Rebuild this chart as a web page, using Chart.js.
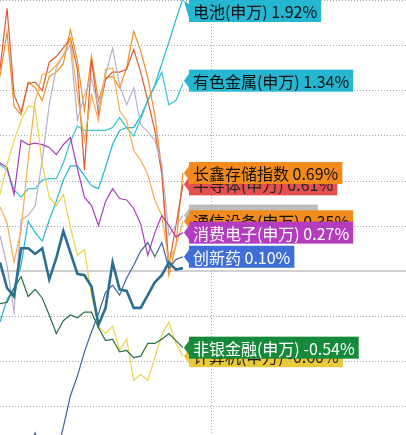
<!DOCTYPE html>
<html>
<head>
<meta charset="utf-8">
<script src="https://cdn.jsdelivr.net/npm/chart.js@4/dist/chart.umd.min.js"></script>
<style>
  html, body { margin: 0; padding: 0; background: #fff; }
  canvas { display: block; }
</style>
</head>
<body>
<canvas id="chart" width="406" height="435"></canvas>
<script>
// time steps (only the right-hand part of the session is in view)
const steps = [0,1,2,3,4,5,6,7,8,9,10,11,12,13,14,15,16,17,18,19,20,21,22,23,24,25,26]

// % change per series
const benchmark = [0.06,-0.12,-0.18,0.16,0.16,0.12,0.16,-0.06,0.09,0.28,0.13,-0.02,-0.03,-0.11,-0.38,-0.26,0.06,-0.13,-0.14,-0.26,-0.26,-0.17,-0.08,-0.03,0.06,0.01,0.02]
const battery = [-0.36,-0.20,-0.12,0.04,0.35,0.27,0.21,0.36,0.49,0.64,0.74,0.74,0.67,0.60,0.58,0.73,0.89,0.99,1.01,1.01,1.09,1.20,1.31,1.46,1.61,1.77,1.92]
const metals = [0.75,0.71,0.57,0.52,0.58,0.58,0.64,0.65,0.65,0.76,0.91,1.02,0.99,0.99,0.99,0.99,1.01,1.08,1.01,0.95,1.07,1.20,1.30,1.40,1.17,1.20,1.32]
const cxmt = [1.37,1.68,1.16,1.10,1.33,1.29,1.20,1.37,1.40,1.46,1.70,1.48,1.13,1.51,1.20,1.36,1.37,1.29,1.43,1.69,1.55,1.36,1.10,0.71,-0.03,0.18,0.69]
const semis = [1.42,1.85,1.24,1.12,1.32,1.33,1.27,1.47,1.51,1.57,1.64,1.42,0.71,1.49,1.10,1.35,1.40,1.40,1.42,1.56,1.40,1.20,0.99,0.68,0.04,0.32,0.61]
const greyIdx = [0.25,0.04,-0.29,0.36,0.39,0.46,0.78,1.17,1.43,1.52,1.59,1.06,1.24,1.35,1.15,1.38,1.57,1.31,1.17,1.29,1.03,0.98,0.92,0.75,0.25,0.32,0.39]
const telecom = [0.45,0.34,0.06,0.29,0.78,1.20,1.38,1.40,1.45,1.52,1.63,1.24,0.92,1.24,1.06,1.42,1.43,1.13,1.06,0.85,0.78,0.68,0.50,0.39,0.06,0.18,0.35]
const consumer = [0.76,0.73,0.54,0.92,0.89,0.90,0.89,0.87,0.82,0.89,0.94,0.72,0.52,0.46,0.32,0.49,0.58,0.51,0.50,0.44,0.33,0.11,0.27,0.39,0.32,0.24,0.27]
const drugs = [-1.40,-1.40,-1.40,-1.40,-1.25,-1.14,-1.30,-1.40,-1.30,-1.10,-0.88,-0.74,-0.57,-0.43,-0.30,-0.15,-0.10,-0.17,-0.05,0.04,0.14,0.20,0.10,0.20,0.02,0.08,0.10]
const nonBank = [-0.23,-0.22,-0.12,-0.04,-0.18,-0.13,-0.19,-0.31,-0.44,-0.35,-0.31,-0.33,-0.29,-0.29,-0.40,-0.49,-0.48,-0.57,-0.56,-0.61,-0.60,-0.51,-0.51,-0.48,-0.44,-0.49,-0.54]
const computer = [0.54,0.75,0.92,1.06,1.16,1.15,0.75,0.52,0.46,0.54,0.31,0.11,0.15,-0.17,-0.39,-0.44,-0.39,-0.56,-0.48,-0.77,-0.73,-0.77,-0.61,-0.45,-0.36,-0.51,-0.60]

// end-of-line tags
const tagNames = ["电池(申万)", "有色金属(申万)", "半导体(申万)", "长鑫存储指数", "", "通信设备(申万)", "消费电子(申万)", "创新药", "计算机(申万)", "非银金融(申万)"]
const tagValues = [1.92, 1.34, 0.61, 0.69, 0.39, 0.35, 0.27, 0.10, -0.60, -0.54]
const tagFill = ["#25b6d1", "#25b6d1", "#e4504e", "#f28a1c", "#bdbdbd", "#f28a1c", "#b43dbf", "#3f6fd6", "#e9c93a", "#17893a"]
const tagInk = ["#111", "#111", "#222", "#111", "#111", "#111", "#fff", "#fff", "#222", "#fff"]

const gridStep = 0.318
const vLine = 30

const line = (data, color, width) => ({
  data: data.map((v, i) => ({ x: steps[i], y: v })),
  borderColor: color,
  borderWidth: width || 1.2,
  pointRadius: 0,
  tension: 0,
  fill: false
})

const gridPlugin = {
  id: "grid",
  beforeDatasetsDraw(chart) {
    const { ctx, chartArea, scales: { x, y } } = chart
    ctx.save()
    ctx.lineWidth = 1
    ctx.strokeStyle = "#a6a6a6"
    ctx.setLineDash([1, 2])
    for (let k = -4; k <= 6; k++) {
      if (k === 0) continue
      const py = Math.round(y.getPixelForValue(k * gridStep)) + 0.5
      if (py < chartArea.top - 1 || py > chartArea.bottom) continue
      ctx.beginPath()
      ctx.moveTo(chartArea.left, py)
      ctx.lineTo(chartArea.right, py)
      ctx.stroke()
    }
    const px = Math.round(x.getPixelForValue(vLine)) + 0.5
    ctx.beginPath()
    ctx.moveTo(px, chartArea.top)
    ctx.lineTo(px, chartArea.bottom)
    ctx.stroke()
    ctx.setLineDash([])
    ctx.strokeStyle = "#d2d2d2"
    ctx.lineWidth = 2
    const zy = Math.round(y.getPixelForValue(0))
    ctx.beginPath()
    ctx.moveTo(chartArea.left, zy)
    ctx.lineTo(chartArea.right, zy)
    ctx.stroke()
    ctx.restore()
  }
}

const tagPlugin = {
  id: "tags",
  afterDatasetsDraw(chart) {
    const { ctx, scales: { x, y } } = chart
    const tipX = x.getPixelForValue(steps[steps.length - 1]) + 1
    const boxX = tipX + 5
    const h = 22
    ctx.save()
    ctx.font = '16px "Noto Sans CJK SC", "Microsoft YaHei", sans-serif'
    ctx.textBaseline = "middle"
    tagNames.forEach((name, i) => {
      const cy = y.getPixelForValue(tagValues[i])
      const top = Math.max(0, cy - h / 2)
      const mid = top + h / 2
      const tipY = Math.max(1, cy)
      const text = name ? name + " " + tagValues[i].toFixed(2) + "%" : ""
      const w = name ? ctx.measureText(text).width + 8 : 129
      ctx.fillStyle = tagFill[i]
      ctx.beginPath()
      ctx.moveTo(boxX, Math.max(top, mid - 7))
      ctx.lineTo(tipX, tipY)
      ctx.lineTo(boxX, mid + 7)
      ctx.closePath()
      ctx.fill()
      ctx.fillRect(boxX, top, w, h)
      if (name) {
        ctx.fillStyle = tagInk[i]
        ctx.fillText(text, boxX + 4, mid + 1)
      }
    })
    ctx.restore()
  }
}

new Chart(document.getElementById("chart"), {
  type: "line",
  data: {
    datasets: [
      line(benchmark, "#2c6e8e", 2.6),
      line(drugs, "#3f5f9d"),
      line(nonBank, "#23704a"),
      line(computer, "#e8d548"),
      line(consumer, "#a83db8"),
      line(telecom, "#f3ae4a"),
      line(greyIdx, "#b8b0cc"),
      line(semis, "#dc5a36"),
      line(cxmt, "#ee8e28"),
      line(metals, "#3cc2cc"),
      line(battery, "#22b5cf")
    ]
  },
  options: {
    responsive: false,
    animation: false,
    events: [],
    layout: { padding: 0 },
    plugins: { legend: { display: false }, tooltip: { enabled: false } },
    scales: {
      x: { type: "linear", min: 0, max: 57.7, display: false },
      y: { min: -1.155, max: 6 * gridStep, display: false }
    }
  },
  plugins: [gridPlugin, tagPlugin]
})
</script>
</body>
</html>
